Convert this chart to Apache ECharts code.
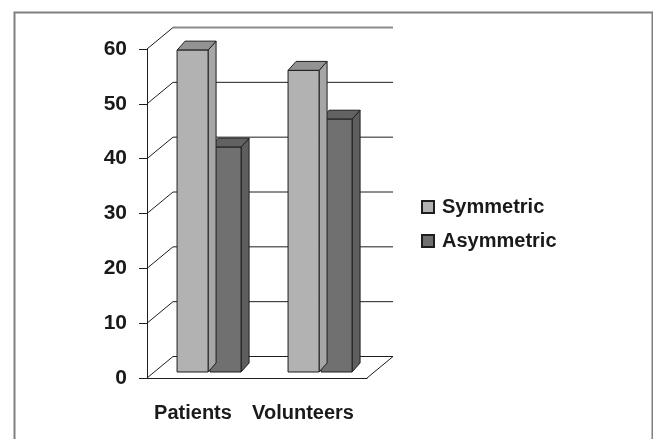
<!DOCTYPE html>
<html>
<head>
<meta charset="utf-8">
<script src="https://cdn.jsdelivr.net/npm/echarts@6/dist/echarts.min.js"></script>
<style>
  html, body { margin: 0; padding: 0; background: #fff; }
  #main { width: 653px; height: 439px; }
</style>
</head>
<body>
<div id="main"></div>
<script>
var categories = ['Patients', 'Volunteers'];
var symmetric = [58.7, 55];
var asymmetric = [41, 46.1];
var yTicks = [0, 10, 20, 30, 40, 50, 60];

var chart = echarts.init(document.getElementById('main'), null, { renderer: 'canvas' });

var WALL = { x: 26, y: -21.5 };   // depth of back wall
var PLANE = { x: 7.5, y: -6 };    // front plane of bars
var DEPTH = { x: 8, y: -9 };      // depth of one bar
var EDGE = '#1e1e1e';
var FONT = 'Liberation Sans, Arial, sans-serif';

function wallItem(params, api) {
    var cs = params.coordSys;
    var v = api.value(1);
    var y = api.coord([0, v])[1];
    var x0 = cs.x, x1 = cs.x + cs.width;
    var top = v === 60;
    var kids = [];
    kids.push({ type: 'line', shape: { x1: x0, y1: y, x2: x0 + WALL.x, y2: y + WALL.y },
        style: { stroke: EDGE, lineWidth: 1 } });
    kids.push({ type: 'line', shape: { x1: x0 + WALL.x, y1: y + WALL.y, x2: x1 + WALL.x, y2: y + WALL.y },
        style: { stroke: top ? '#8a8a8a' : EDGE, lineWidth: top ? 2 : 1 } });
    if (v === 0) {
        kids.push({ type: 'line', shape: { x1: x1, y1: y, x2: x1 + WALL.x, y2: y + WALL.y },
            style: { stroke: EDGE, lineWidth: 1 } });
    }
    return { type: 'group', children: kids };
}

function barItem(offset, front, side, topc) {
    return function (params, api) {
        var cat = api.value(0), v = api.value(1);
        var p0 = api.coord([cat, 0]), p1 = api.coord([cat, v]);
        var band = api.size([1, 0])[0];
        var w = band * 0.282;
        var xl = p0[0] + band * offset + PLANE.x + cat;
        var yb = p0[1] + PLANE.y, yt = p1[1] + PLANE.y;
        var st = { stroke: EDGE, lineWidth: 1 };
        return {
            type: 'group',
            children: [
                { type: 'polygon', shape: { points: [[xl + w, yt], [xl + w + DEPTH.x, yt + DEPTH.y], [xl + w + DEPTH.x, yb + DEPTH.y], [xl + w, yb]] },
                    style: Object.assign({ fill: side }, st) },
                { type: 'polygon', shape: { points: [[xl, yt], [xl + DEPTH.x, yt + DEPTH.y], [xl + w + DEPTH.x, yt + DEPTH.y], [xl + w, yt]] },
                    style: Object.assign({ fill: topc }, st) },
                { type: 'rect', shape: { x: xl, y: yt, width: w, height: yb - yt },
                    style: Object.assign({ fill: front }, st) }
            ]
        };
    };
}

var option = {
    backgroundColor: '#fff',
    animation: false,
    graphic: [{
        type: 'rect', left: 12, top: 10, silent: true,
        shape: { width: 638, height: 440 },
        style: { fill: 'none', stroke: '#808080', lineWidth: 2 }
    }],
    grid: { left: 147, top: 49, width: 220, height: 329 },
    legend: {
        data: ['Symmetric', 'Asymmetric'],
        orient: 'vertical',
        left: 421, top: 197, padding: 0,
        itemWidth: 12, itemHeight: 12, itemGap: 14,
        icon: 'rect',
        textStyle: { fontFamily: FONT, fontSize: 20, fontWeight: 'bold', color: '#1a1a1a', padding: [0, 0, 0, 3] }
    },
    xAxis: {
        type: 'category',
        data: categories,
        axisLine: { lineStyle: { color: EDGE, width: 1 } },
        axisTick: { length: 8, lineStyle: { color: EDGE } },
        axisLabel: { interval: 0, margin: 25, fontFamily: FONT, fontSize: 20, fontWeight: 'bold', color: '#1a1a1a', padding: [0, 18, 0, 0] }
    },
    yAxis: {
        type: 'value', min: 0, max: 60, interval: 10,
        axisLine: { show: true, lineStyle: { color: EDGE, width: 1 } },
        axisTick: { show: true, length: 8, lineStyle: { color: EDGE } },
        splitLine: { show: false },
        axisLabel: { margin: 20, fontFamily: FONT, fontSize: 21, fontWeight: 'bold', color: '#1a1a1a' }
    },
    series: [
        {
            name: 'wall', type: 'custom', silent: true, z: 1,
            renderItem: wallItem,
            encode: { x: 0, y: 1 },
            data: yTicks.map(function (v) { return [0, v]; })
        },
        {
            name: 'Asymmetric', type: 'custom', z: 2,
            itemStyle: { color: '#707070', borderColor: EDGE, borderWidth: 1 },
            renderItem: barItem(0.005, '#707070', '#5e5e5e', '#626262'),
            encode: { x: 0, y: 1 },
            data: asymmetric.map(function (v, i) { return [i, v]; })
        },
        {
            name: 'Symmetric', type: 'custom', z: 3,
            itemStyle: { color: '#b2b2b2', borderColor: EDGE, borderWidth: 1 },
            renderItem: barItem(-0.295, '#b2b2b2', '#a6a6a6', '#939393'),
            encode: { x: 0, y: 1 },
            data: symmetric.map(function (v, i) { return [i, v]; })
        }
    ]
};
chart.setOption(option);
</script>
</body>
</html>
